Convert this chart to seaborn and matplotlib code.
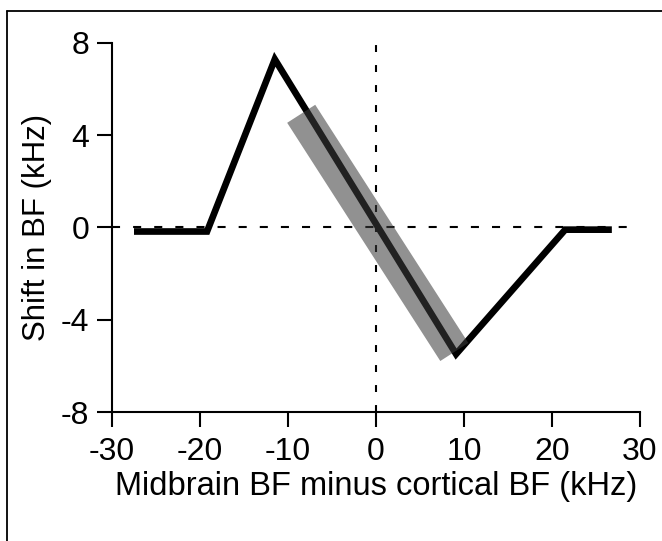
import matplotlib
matplotlib.use("Agg")
import matplotlib.pyplot as plt
from matplotlib.lines import Line2D
import seaborn as sns
import pandas as pd

# Data
curve_x = [-27.5, -19.2, -11.5, 9.1, 21.5, 26.8]
curve_y = [-0.18, -0.18, 7.28, -5.49, -0.1, -0.1]
band_x = [-8.5, 8.9]
band_y = [4.92, -5.40]
x_ticks = [-30, -20, -10, 0, 10, 20, 30]
y_ticks = [-8, -4, 0, 4, 8]
x_label = "Midbrain BF minus cortical BF (kHz)"
y_label = "Shift in BF (kHz)"

sns.set_style("ticks")
plt.rcParams["font.family"] = ["Liberation Sans", "DejaVu Sans"]
plt.rcParams["lines.scale_dashes"] = False

FS = 23

fig = plt.figure(figsize=(6.62, 5.41), dpi=100)
ax = fig.add_axes([112 / 662, (541 - 412) / 541, (640 - 112) / 662, (412 - 42.7) / 541])

curve = pd.DataFrame({"x": curve_x, "y": curve_y})
band = pd.DataFrame({"x": band_x, "y": band_y})

ax.axhline(0, color="black", lw=1.5, ls=(0, (5.8, 9.4)), zorder=1, xmax=0.985)
ax.axvline(0, color="black", lw=1.5, ls=(0, (5.0, 9.4)), zorder=1)

sns.lineplot(data=curve, x="x", y="y", sort=False, estimator=None, color="black",
             lw=4.8, ax=ax, zorder=2, solid_joinstyle="miter", solid_capstyle="butt")
sns.lineplot(data=band, x="x", y="y", sort=False, estimator=None, color="#3b3b3b",
             alpha=0.56, lw=24, ax=ax, zorder=3, solid_capstyle="butt")

ax.set_xlim(-30, 30)
ax.set_ylim(-8, 8)
ax.set_xticks(x_ticks)
ax.set_yticks(y_ticks)
ax.set_xticklabels([str(v) for v in x_ticks])
ax.set_yticklabels([str(v) for v in y_ticks])
ax.tick_params(axis="both", direction="out", length=10.5, width=1.5, color="black",
               labelsize=FS, labelcolor="black")
ax.tick_params(axis="x", pad=7.5)
ax.tick_params(axis="y", pad=6)
for s in ["top", "right"]:
    ax.spines[s].set_visible(False)
for s in ["left", "bottom"]:
    ax.spines[s].set_linewidth(1.5)
    ax.spines[s].set_color("black")

ax.set_xlabel(x_label, fontsize=23.5, color="black", labelpad=3)
ax.set_ylabel(y_label, fontsize=22.5, color="black")
ax.yaxis.set_label_coords(-0.113, 0.5)

# figure frame (top and left edges visible in the reference crop)
fig.add_artist(Line2D([7.3 / 662, 1.0], [1 - 10.7 / 541, 1 - 10.7 / 541],
                      transform=fig.transFigure, color="black", lw=1.3))
fig.add_artist(Line2D([7.3 / 662, 7.3 / 662], [0, 1 - 10.7 / 541],
                      transform=fig.transFigure, color="black", lw=1.3))

fig.savefig("out.png", dpi=100, facecolor="white")
